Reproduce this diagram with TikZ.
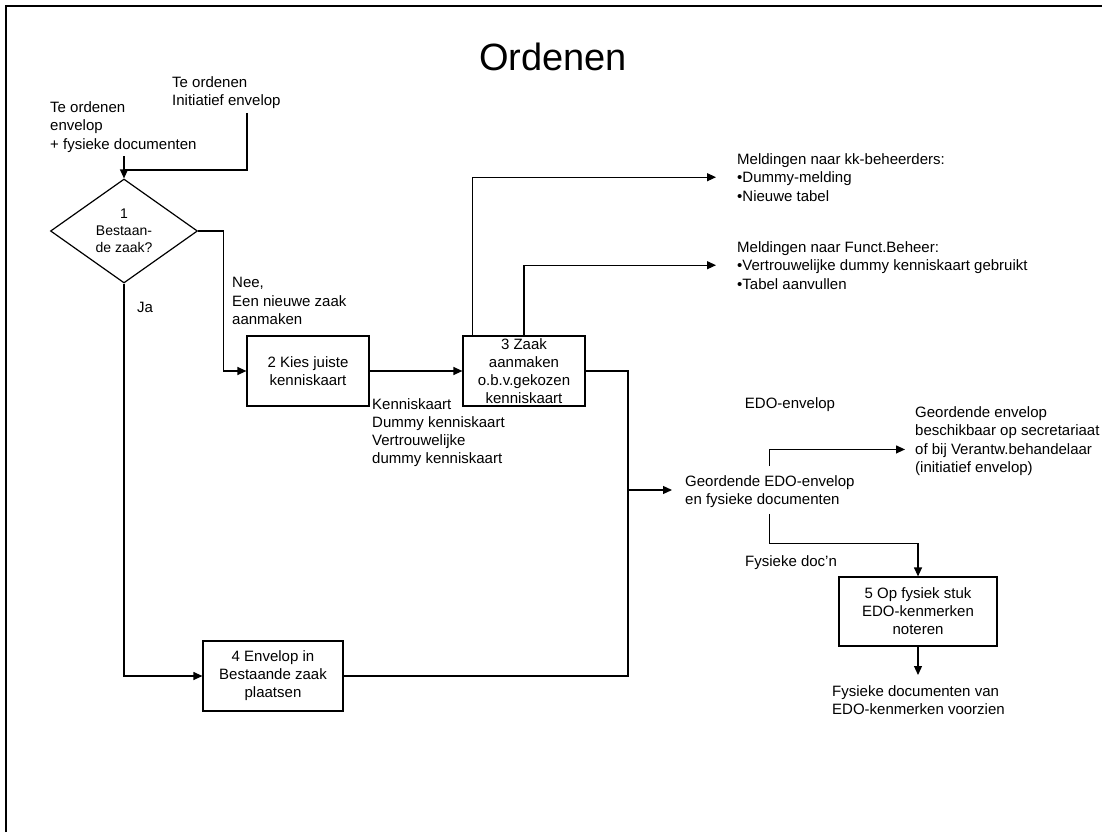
\documentclass[tikz,border=0pt]{standalone}
\usepackage{fontspec}
\setmainfont{Liberation Sans}
\usetikzlibrary{shapes.geometric,arrows.meta}
\begin{document}
\begin{tikzpicture}[x=1pt,y=-1pt,
  every node/.style={font=\fontsize{15}{18.5}\selectfont, inner sep=0pt},
  conn/.style={line width=1.2pt},
  arr/.style={conn, -{Triangle[length=9pt,width=8pt]}},
  box/.style={draw, line width=1.2pt, align=center, minimum height=70pt, font=\fontsize{15}{18}\selectfont},
  lbl/.style={align=left, anchor=north west},
  dia/.style={diamond, draw, line width=1.2pt, aspect=1.4, align=center, minimum width=147pt, minimum height=104pt, font=\fontsize{14}{17}\selectfont}]

\useasboundingbox (0,0) rectangle (1102,832);
\draw[line width=2pt] (6,832) -- (6,6) -- (1102,6);

\node (title) at (553,57) {\fontsize{38}{40}\selectfont Ordenen};

% inputs
\node[lbl] (in1) at (50,101) {Te ordenen\\envelop\\+ fysieke documenten};
\node[lbl] (in2) at (172,76) {Te ordenen\\Initiatief envelop};

% decision
\node[dia] (d1) at (124,231) {\rule{0pt}{6pt}1\\Bestaan-\\de zaak?};
\coordinate (j1) at (124,170);

% boxes
\node[box, minimum width=122pt] (b2) at (308,371) {2 Kies juiste\\kenniskaart};
\node[box, minimum width=122pt] (b3) at (524,371) {3 Zaak\\aanmaken\\o.b.v.gekozen\\kenniskaart};
\node[box, minimum width=140pt] (b4) at (273,676) {4 Envelop in\\Bestaande zaak\\plaatsen};
\node[box, minimum width=158pt, minimum height=69pt] (b5) at (918,611.5) {5 Op fysiek stuk\\EDO-kenmerken\\noteren};

% labels
\node[lbl] (nee) at (232,277) {Nee,\\Een nieuwe zaak\\aanmaken};
\node[lbl] (ja) at (137,302) {Ja};
\node[lbl, font=\fontsize{15}{18}\selectfont] (kk) at (372,398) {Kenniskaart\\Dummy kenniskaart\\Vertrouwelijke\\dummy kenniskaart};
\node[lbl] (m1) at (737,153) {Meldingen naar kk-beheerders:\\•Dummy-melding\\•Nieuwe tabel};
\node[lbl] (m2) at (737,241) {Meldingen naar Funct.Beheer:\\•Vertrouwelijke dummy kenniskaart gebruikt\\•Tabel aanvullen};
\node (edo) at (790,405) {EDO-envelop};
\node[lbl] (g1) at (685,475) {Geordende EDO-envelop\\en fysieke documenten};
\node[lbl] (g2) at (915,406) {Geordende envelop\\beschikbaar op secretariaat\\of bij Verantw.behandelaar\\(initiatief envelop)};
\node[lbl] (fd) at (745,555) {Fysieke doc’n};
\node[lbl] (f1) at (832,685) {Fysieke documenten van\\EDO-kenmerken voorzien};

% connectors
\draw[arr, shorten <=4pt] (in1.south -| d1.north) -- (d1.north);
\draw[conn] ([xshift=75pt,yshift=-4pt]in2.south west) |- (j1);
\draw[arr] (d1.east) -- ++(25,0) |- (b2.west);
\draw[arr] (d1.south) |- (b4.west);
\draw[arr] (b2.east) -- (b3.west);
\draw[arr] ([xshift=10pt]b3.north west) |- ([xshift=-21pt]m1.west);
\draw[arr] (b3.north) |- ([xshift=-21pt]m2.west);
\coordinate (mg) at (628,490);
\draw[conn] (b3.east) -| (mg);
\draw[conn] (b4.east) -| (mg);
\draw[arr, shorten >=13pt] (mg) -- (mg -| g1.west);
\draw[arr] ([yshift=9pt]g1.north) |- ([xshift=-10pt,yshift=-8.5pt]g2.west);
\draw[arr] ([yshift=-6pt]g1.south) -- ++(0,30) -| (b5.north);
\draw[arr, shorten >=10pt] (b5.south) -- (b5.south |- f1.north);
\end{tikzpicture}
\end{document}
